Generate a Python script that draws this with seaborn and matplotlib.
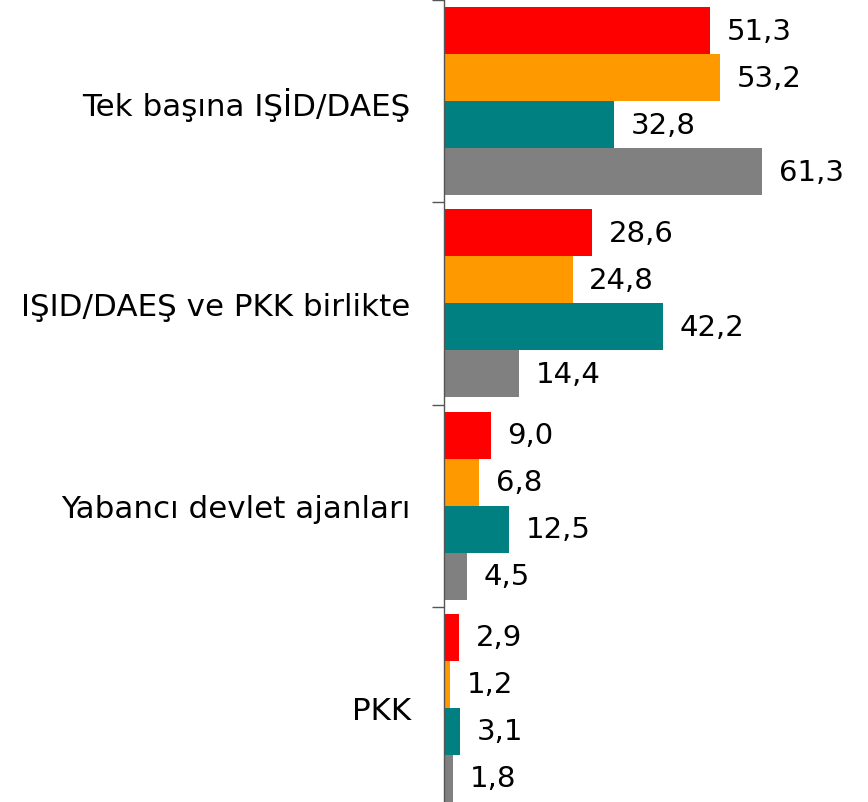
import numpy as np
import pandas as pd
import matplotlib
matplotlib.use("Agg")
import matplotlib.pyplot as plt
import seaborn as sns

# Dữ liệu
categories = ["Tek başına IŞİD/DAEŞ", "IŞID/DAEŞ ve PKK birlikte",
              "Yabancı devlet ajanları", "PKK"]
series = ["S1", "S2", "S3", "S4"]
s1 = [51.3, 28.6, 9.0, 2.9]
s2 = [53.2, 24.8, 6.8, 1.2]
s3 = [32.8, 42.2, 12.5, 3.1]
s4 = [61.3, 14.4, 4.5, 1.8]
colors = ["#FF0000", "#FF9900", "#008080", "#808080"]

rows = []
for name, vals in zip(series, [s1, s2, s3, s4]):
    for cat, v in zip(categories, vals):
        rows.append({"category": cat, "series": name, "value": v})
df = pd.DataFrame(rows)

sns.set_style("white")
plt.rcParams["font.family"] = ["DejaVu Sans"]

fig = plt.figure(figsize=(8.68, 8.03), dpi=100)
ax = fig.add_axes([444 / 868, 1 - 810 / 803, 1 - 444 / 868, 809 / 803])

sns.barplot(data=df, y="category", x="value", hue="series", order=categories,
            hue_order=series, palette=colors, orient="h", width=0.93,
            saturation=1, legend=False, ax=ax, edgecolor="none")

# Nhãn giá trị với dấu phẩy thập phân
for cont in ax.containers:
    labels = [f"{b.get_width():.1f}".replace(".", ",") for b in cont]
    ax.bar_label(cont, labels=labels, padding=12, fontsize=21, color="black")

ax.set_xlim(0, 81.7)
ax.set_ylim(len(categories) - 0.5, -0.5)
ax.set_xlabel("")
ax.set_ylabel("")
ax.set_xticks([])
ax.set_yticks(range(len(categories)))
ax.set_yticklabels(categories, fontsize=22.3, color="black")
ax.tick_params(axis="y", which="major", left=False, length=0, pad=24)
ax.set_yticks(np.arange(-0.5, len(categories), 1), minor=True)
ax.tick_params(axis="y", which="minor", left=True, length=9, width=1,
               color="#555555", direction="out")
for side in ["top", "right", "bottom"]:
    ax.spines[side].set_visible(False)
ax.spines["left"].set_color("#555555")
ax.spines["left"].set_linewidth(1)

plt.savefig("out.png", dpi=100)
